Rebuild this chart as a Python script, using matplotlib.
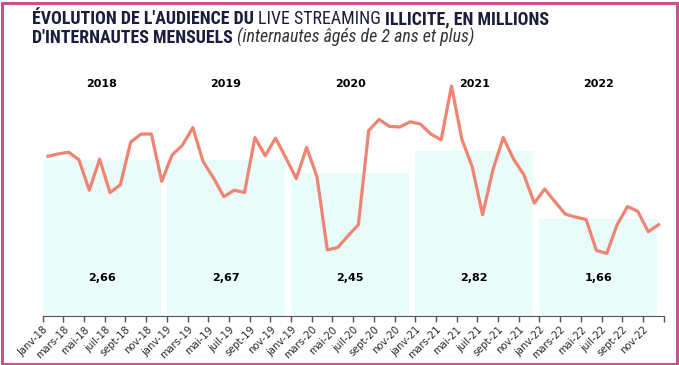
import matplotlib
matplotlib.use('Agg')
import matplotlib.pyplot as plt
from matplotlib import font_manager
from matplotlib.patches import Rectangle
import numpy as np

# ==========================================
# Data
# ==========================================
years = ['2018', '2019', '2020', '2021', '2022']
annual_avg = [2.66, 2.67, 2.45, 2.82, 1.66]

# monthly audience, janv-18 .. déc-22 (millions)
audience = [
    2.73, 2.77, 2.80, 2.67, 2.15, 2.68, 2.11, 2.24, 2.97, 3.11, 3.11, 2.30,
    2.75, 2.92, 3.22, 2.64, 2.36, 2.04, 2.15, 2.11, 3.05, 2.74, 3.04, 2.70,
    2.35, 2.88, 2.38, 1.13, 1.17, 1.37, 1.56, 3.17, 3.36, 3.24, 3.23, 3.32,
    3.28, 3.11, 3.01, 3.93, 3.02, 2.55, 1.73, 2.50, 3.05, 2.68, 2.41, 1.93,
    2.17, 1.95, 1.74, 1.69, 1.65, 1.12, 1.07, 1.56, 1.87, 1.79, 1.44, 1.56,
]

tick_labels = ['Janv-18', 'mars-18', 'mai-18', 'juil-18', 'sept-18', 'nov-18',
               'janv-19', 'mars-19', 'mai-19', 'juil-19', 'sept-19', 'nov-19',
               'janv-19', 'mars-20', 'mai-20', 'juil-20', 'sept-20', 'nov-20',
               'janv-21', 'mars-21', 'mai-21', 'juil-21', 'sept-21', 'nov-21',
               'janv-22', 'mars-22', 'mai-22', 'juil-22', 'sept-22', 'nov-22']

W, H = 679, 365
fig = plt.figure(figsize=(W / 100, H / 100), dpi=100)
ax = fig.add_axes([42.7 / W, 49 / H, 621 / W, 251.6 / H])

# yearly average columns
bar_x = np.arange(len(years)) * 12
ax.bar(bar_x, annual_avg, width=11.4, align='edge', color='#e9fcfa', zorder=1)

# monthly line
x = np.arange(len(audience)) + 0.5
ax.plot(x, audience, color='#ee8572', lw=2.3, zorder=3)

ax.set_xlim(0, 60)
ax.set_ylim(0, 4.3)
for s in ['left', 'right', 'top']:
    ax.spines[s].set_visible(False)
ax.spines['bottom'].set_color('#555555')
ax.set_yticks([])
ax.set_xticks(np.arange(0, 61, 2))
ax.set_xticklabels(tick_labels + [''], rotation=45, ha='right',
                   rotation_mode='anchor')
ax.tick_params(axis='x', length=4, width=1, color='#555555',
               labelsize=7.2, labelcolor='#2a2a2a', pad=2)

for bx, yr, v in zip(bar_x, years, annual_avg):
    ax.text(bx + 5.7, 3.97, yr, ha='center', va='center',
            fontsize=8, fontweight='bold', color='black')
    ax.text(bx + 5.7, 0.65, f'{v:.2f}'.replace('.', ','), ha='center',
            va='center', fontsize=8, fontweight='bold', color='black')

# ==========================================
# Title (mixed styles, fitted to width)
# ==========================================
names = {f.name for f in font_manager.fontManager.ttflist}
title_font = next((n for n in ['Liberation Sans Narrow', 'Roboto Condensed', 'Roboto']
                   if n in names), 'DejaVu Sans')

navy = '#1c1c3c'
line1 = [("ÉVOLUTION DE L'AUDIENCE DU ", 'bold', 'normal', navy),
         ("LIVE STREAMING ", 'normal', 'normal', navy),
         ("ILLICITE, EN MILLIONS", 'bold', 'normal', navy)]
line2 = [("D'INTERNAUTES MENSUELS ", 'bold', 'normal', navy),
         ("(internautes âgés de 2 ans et plus)", 'normal', 'italic', '#333333')]

renderer = fig.canvas.get_renderer()


def draw_line(parts, x0, y0, size):
    xx = x0
    texts = []
    for s, w, st, c in parts:
        t = fig.text(xx / W, 1 - y0 / H, s, fontsize=size, fontweight=w,
                     fontstyle=st, family=title_font, color=c, va='baseline')
        xx += t.get_window_extent(renderer).width
        texts.append(t)
    return texts, xx - x0


tmp, width1 = draw_line(line1, 32, 24, 11)
for t in tmp:
    t.remove()
size = min(11 * 515 / width1, 13.5)
draw_line(line1, 32, 24, size)
draw_line(line2, 32, 43, size)

# pink frame
fig.patches.append(Rectangle((1.5 / W, 1.5 / H), (W - 4) / W, (H - 4) / H,
                             transform=fig.transFigure, fill=False,
                             edgecolor='#c9528a', lw=2.2))

fig.savefig('out.png', dpi=100)
